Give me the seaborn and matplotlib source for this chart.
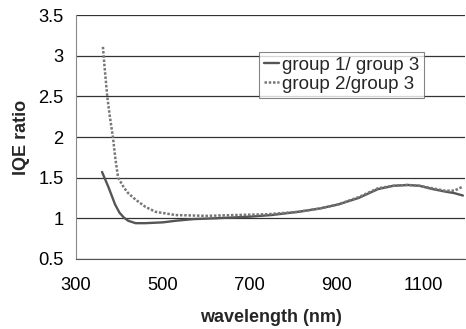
import numpy as np
import pandas as pd
import seaborn as sns
import matplotlib.pyplot as plt

# values
wl_g1 = [360, 375, 390, 400, 410, 420, 437, 460, 500, 530, 570, 620, 700, 750, 812,
         860, 903, 950, 995, 1030, 1063, 1090, 1120, 1148, 1170, 1190]
ratio_g1 = [1.57, 1.38, 1.17, 1.07, 1.01, 0.97, 0.94, 0.94, 0.95, 0.97, 0.99, 1.0, 1.02, 1.04, 1.08,
            1.12, 1.17, 1.25, 1.36, 1.40, 1.41, 1.40, 1.36, 1.33, 1.31, 1.28]
wl_g2 = [362, 366, 372, 378, 385, 391, 397, 410, 420, 437, 460, 483, 529, 600, 666,
         740, 812, 860, 903, 950, 995, 1030, 1063, 1090, 1120, 1148, 1170, 1190]
ratio_g2 = [3.11, 2.85, 2.5, 2.25, 2.0, 1.72, 1.5, 1.38, 1.31, 1.23, 1.14, 1.08, 1.04, 1.03, 1.04,
            1.05, 1.08, 1.12, 1.17, 1.26, 1.37, 1.40, 1.41, 1.40, 1.37, 1.34, 1.34, 1.39]
labels = ["group 1/ group 3", "group 2/group 3"]

sns.set_style("white")
plt.rcParams['font.family'] = ['Liberation Sans', 'DejaVu Sans']

fig = plt.figure(figsize=(4.66, 3.29), dpi=100)
ax = fig.add_axes([0.163, 0.213, 0.835, 0.741])

sns.lineplot(x=wl_g1, y=ratio_g1, ax=ax, color="#555555", lw=1.7, label=labels[0])
sns.lineplot(x=wl_g2, y=ratio_g2, ax=ax, color="#777777", lw=1.8, ls=(0, (1, 0.7)), label=labels[1])

ax.set_xlim(300, 1195)
ax.set_ylim(0.5, 3.5)
ax.set_xticks([300, 500, 700, 900, 1100])
ax.set_yticks([0.5, 1, 1.5, 2, 2.5, 3, 3.5])
ax.set_yticklabels(["0.5", "1", "1.5", "2", "2.5", "3", "3.5"])
ax.yaxis.grid(True, color="#333333", lw=0.9)
ax.xaxis.grid(False)
for s in ["top", "right"]:
    ax.spines[s].set_visible(False)
ax.spines["left"].set_color("#888888")
ax.spines["bottom"].set_color("#555555")
ax.tick_params(axis="both", labelsize=13.2, colors="black", length=0)
ax.tick_params(axis="x", pad=13)
ax.tick_params(axis="y", pad=9)
ax.set_xlabel("wavelength (nm)", fontsize=13, fontweight="bold", labelpad=11)
ax.set_ylabel("IQE ratio", fontsize=13, fontweight="bold", labelpad=6)

leg = ax.legend(loc="upper left", bbox_to_anchor=(0.47, 0.85), fontsize=13.5, frameon=True,
                fancybox=False, handlelength=0.8, handletextpad=0.2, borderpad=0.25,
                labelspacing=0.12, borderaxespad=0)
leg.get_frame().set_edgecolor("#666666")
leg.get_frame().set_linewidth(0.8)

fig.savefig("out.png", dpi=100)
